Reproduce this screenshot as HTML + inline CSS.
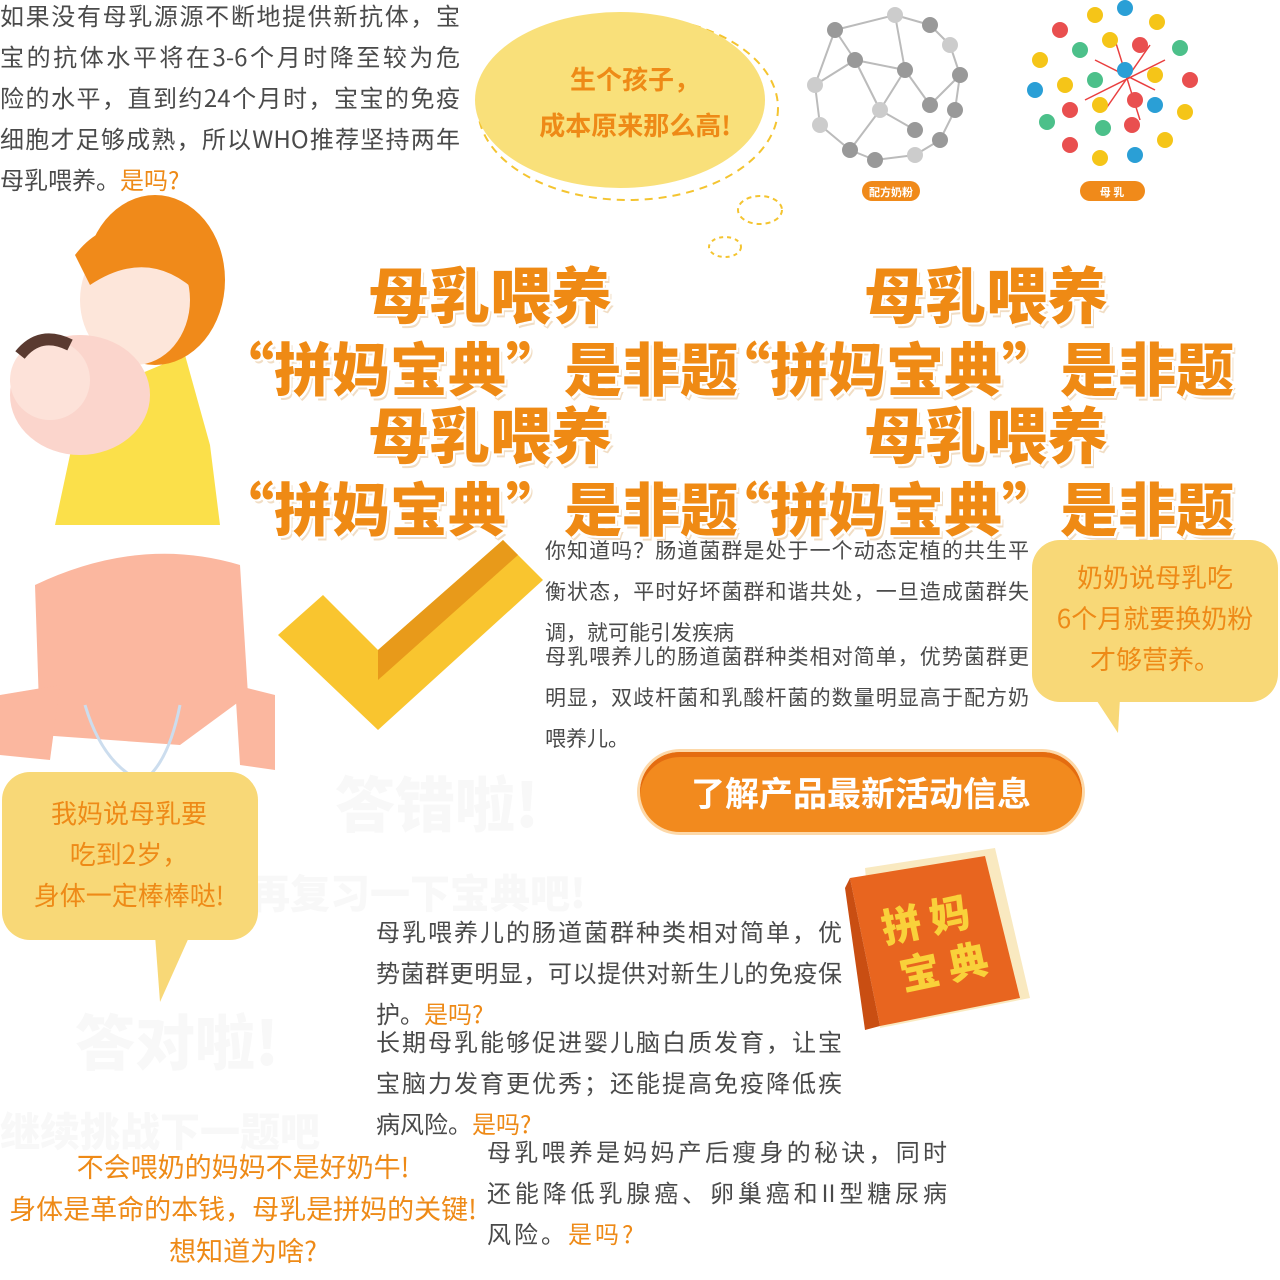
<!DOCTYPE html>
<html><head><meta charset="utf-8">
<style>
html,body{margin:0;padding:0;background:#fff;}
body{width:1280px;height:1280px;position:relative;overflow:hidden;font-family:"Noto Sans CJK SC","Liberation Sans",sans-serif;}
.a{position:absolute;white-space:nowrap;}
.p{color:#4a4a4a;}
.o{color:#ee8a17;}
.j{text-align:justify;text-align-last:justify;height:41px;}
.big{font-family:"Noto Sans CJK SC",sans-serif;font-weight:900;color:#ef8a14;text-shadow:2px 2px 0 #fff,-2px -2px 0 #fff,2px -2px 0 #fff,-2px 2px 0 #fff,3px 4px 0 rgba(200,120,20,0.25);}
</style></head>
<body>

<div class="a p" style="left:0;top:-6px;width:460px;font-size:24px;line-height:41px;white-space:normal;">
<div class="j">如果没有母乳源源不断地提供新抗体，宝</div><div class="j">宝的抗体水平将在3-6个月时降至较为危</div><div class="j">险的水平，直到约24个月时，宝宝的免疫</div><div class="j">细胞才足够成熟，所以WHO推荐坚持两年</div><div>母乳喂养。<span class="o">是吗?</span></div>
</div>

<svg class="a" style="left:460px;top:0" width="360" height="270">
<ellipse cx="168" cy="108" rx="150" ry="92" fill="none" stroke="#f4c430" stroke-width="2" stroke-dasharray="8 6"/>
<ellipse cx="160" cy="100" rx="145" ry="88" fill="#f9e07a"/>
<ellipse cx="300" cy="210" rx="22" ry="14" fill="none" stroke="#f4c430" stroke-width="2" stroke-dasharray="5 4"/>
<ellipse cx="265" cy="247" rx="16" ry="10" fill="none" stroke="#f4c430" stroke-width="2" stroke-dasharray="4 4"/>
</svg>
<div class="a o" style="left:515px;top:56px;width:240px;text-align:center;font-size:26px;line-height:46px;font-weight:700;">生个孩子，<br>成本原来那么高!</div>

<svg class="a" style="left:795px;top:0" width="420" height="210">
<g stroke="#bbb" stroke-width="2">
<line x1="40" y1="30" x2="100" y2="15"/><line x1="100" y1="15" x2="135" y2="25"/><line x1="40" y1="30" x2="20" y2="85"/><line x1="20" y1="85" x2="25" y2="125"/><line x1="25" y1="125" x2="55" y2="150"/><line x1="55" y1="150" x2="80" y2="160"/><line x1="80" y1="160" x2="120" y2="155"/><line x1="120" y1="155" x2="145" y2="140"/><line x1="145" y1="140" x2="160" y2="110"/><line x1="160" y1="110" x2="165" y2="75"/><line x1="165" y1="75" x2="155" y2="45"/><line x1="155" y1="45" x2="135" y2="25"/><line x1="60" y1="60" x2="110" y2="70"/><line x1="60" y1="60" x2="85" y2="110"/><line x1="85" y1="110" x2="110" y2="70"/><line x1="110" y1="70" x2="135" y2="105"/><line x1="85" y1="110" x2="120" y2="130"/><line x1="40" y1="30" x2="60" y2="60"/><line x1="100" y1="15" x2="110" y2="70"/><line x1="20" y1="85" x2="60" y2="60"/><line x1="55" y1="150" x2="85" y2="110"/><line x1="135" y1="105" x2="165" y2="75"/>
</g>
<g fill="#999">
<circle cx="40" cy="30" r="8"/><circle cx="100" cy="15" r="8" fill="#ccc"/><circle cx="135" cy="25" r="8"/><circle cx="20" cy="85" r="8" fill="#ccc"/><circle cx="25" cy="125" r="8" fill="#ccc"/><circle cx="55" cy="150" r="8"/><circle cx="80" cy="160" r="8"/><circle cx="120" cy="155" r="8" fill="#ccc"/><circle cx="145" cy="140" r="8"/><circle cx="160" cy="110" r="8"/><circle cx="165" cy="75" r="8"/><circle cx="155" cy="45" r="8" fill="#ccc"/><circle cx="60" cy="60" r="8"/><circle cx="110" cy="70" r="8"/><circle cx="85" cy="110" r="8" fill="#ccc"/><circle cx="135" cy="105" r="8"/><circle cx="120" cy="130" r="8"/>
</g>
<g stroke="#e94040" stroke-width="1.5"><line x1="300" y1="60" x2="360" y2="90"/><line x1="320" y1="40" x2="345" y2="120"/><line x1="290" y1="100" x2="370" y2="60"/><line x1="310" y1="110" x2="355" y2="45"/></g>
<g>
<circle cx="265" cy="30" r="8" fill="#e94f4f"/><circle cx="300" cy="15" r="8" fill="#f5c518"/><circle cx="330" cy="8" r="8" fill="#2a9fd6"/><circle cx="362" cy="22" r="8" fill="#f5c518"/><circle cx="245" cy="60" r="8" fill="#f5c518"/><circle cx="285" cy="50" r="8" fill="#4cc08a"/><circle cx="315" cy="40" r="8" fill="#f5c518"/><circle cx="345" cy="45" r="8" fill="#e94f4f"/><circle cx="385" cy="48" r="8" fill="#4cc08a"/><circle cx="240" cy="90" r="8" fill="#2a9fd6"/><circle cx="270" cy="85" r="8" fill="#f5c518"/><circle cx="300" cy="80" r="8" fill="#4cc08a"/><circle cx="330" cy="70" r="8" fill="#2a9fd6"/><circle cx="360" cy="75" r="8" fill="#f5c518"/><circle cx="395" cy="80" r="8" fill="#e94f4f"/><circle cx="275" cy="110" r="8" fill="#e94f4f"/><circle cx="305" cy="105" r="8" fill="#f5c518"/><circle cx="340" cy="100" r="8" fill="#e94f4f"/><circle cx="360" cy="105" r="8" fill="#2a9fd6"/><circle cx="390" cy="112" r="8" fill="#f5c518"/><circle cx="252" cy="122" r="8" fill="#4cc08a"/><circle cx="308" cy="128" r="8" fill="#4cc08a"/><circle cx="337" cy="125" r="8" fill="#e94f4f"/><circle cx="275" cy="145" r="8" fill="#e94f4f"/><circle cx="305" cy="158" r="8" fill="#f5c518"/><circle cx="340" cy="155" r="8" fill="#2a9fd6"/><circle cx="370" cy="140" r="8" fill="#f5c518"/>
</g>
<rect x="67" y="181" width="58" height="20" rx="10" fill="#f08a1a"/>
<text x="96" y="196" font-size="11" font-weight="700" fill="#fff" text-anchor="middle" font-family="Noto Sans CJK SC">配方奶粉</text>
<rect x="285" y="181" width="65" height="20" rx="10" fill="#f08a1a"/>
<text x="317" y="196" font-size="11" font-weight="700" fill="#fff" text-anchor="middle" font-family="Noto Sans CJK SC">母  乳</text>
</svg>

<svg class="a" style="left:0;top:195px" width="240" height="350">
<path d="M90 200 L70 260 L55 330 L220 330 L210 250 L185 160 Z" fill="#fbe04a"/>
<ellipse cx="155" cy="85" rx="70" ry="85" fill="#f08a1a"/>
<ellipse cx="135" cy="105" rx="55" ry="65" fill="#fde6da"/>
<path d="M75 60 Q120 0 210 60 L200 100 Q150 50 90 90 Z" fill="#f08a1a"/>
<ellipse cx="80" cy="200" rx="70" ry="60" fill="#fbd5cc"/>
<ellipse cx="50" cy="185" rx="40" ry="40" fill="#fde2d9"/>
<path d="M20 160 Q40 135 70 150" stroke="#5a3a30" stroke-width="12" fill="none"/>
</svg>

<div class="a big" style="left:368px;top:256px;font-size:61px;line-height:72px;">母乳喂养</div>
<div class="a big" style="left:864px;top:256px;font-size:61px;line-height:72px;">母乳喂养</div>
<div class="a big" style="left:216px;top:330px;font-size:58px;line-height:72px;">“拼妈宝典”是非题</div>
<div class="a big" style="left:712px;top:330px;font-size:58px;line-height:72px;">“拼妈宝典”是非题</div>
<div class="a big" style="left:368px;top:396px;font-size:61px;line-height:72px;">母乳喂养</div>
<div class="a big" style="left:864px;top:396px;font-size:61px;line-height:72px;">母乳喂养</div>
<div class="a big" style="left:216px;top:470px;font-size:58px;line-height:72px;">“拼妈宝典”是非题</div>
<div class="a big" style="left:712px;top:470px;font-size:58px;line-height:72px;">“拼妈宝典”是非题</div>

<svg class="a" style="left:0;top:545px" width="280" height="230">
<path d="M35 40 Q140 -10 240 20 L248 150 L180 200 L40 190 Z" fill="#fbb79f"/>
<path d="M0 150 L60 140 L50 215 L0 210 Z" fill="#fbb79f"/>
<path d="M235 140 L275 150 L275 225 L240 220 Z" fill="#fbb79f"/>
<path d="M85 160 Q100 210 130 230 M180 160 Q170 210 150 230" stroke="#cde" stroke-width="3" fill="none"/>
</svg>

<svg class="a" style="left:278px;top:540px" width="270" height="195">
<path d="M0 95 L45 55 L100 110 L225 0 L265 40 L100 190 Z" fill="#f9c52f"/>
<path d="M100 110 L225 0 L240 15 L100 140 Z" fill="#e89a1a"/>
</svg>

<div class="a p" style="left:545px;top:530px;width:484px;font-size:21px;line-height:41px;white-space:normal;">
<div class="j">你知道吗？肠道菌群是处于一个动态定植的共生平</div><div class="j">衡状态，平时好坏菌群和谐共处，一旦造成菌群失</div><div>调，就可能引发疾病</div></div>
<div class="a p" style="left:545px;top:636px;width:484px;font-size:21px;line-height:41px;white-space:normal;">
<div class="j">母乳喂养儿的肠道菌群种类相对简单，优势菌群更</div><div class="j">明显，双歧杆菌和乳酸杆菌的数量明显高于配方奶</div><div>喂养儿。</div></div>

<svg class="a" style="left:1030px;top:538px" width="250" height="200">
<rect x="2" y="2" width="246" height="162" rx="28" fill="#f8d877"/>
<path d="M65 160 L88 195 L90 160 Z" fill="#f8d877"/>
</svg>
<div class="a o" style="left:1032px;top:556px;width:246px;text-align:center;font-size:26px;line-height:41px;">奶奶说母乳吃<br>6个月就要换奶粉<br>才够营养。</div>

<div class="a" style="left:640px;top:752px;width:442px;height:80px;border-radius:40px;background:#f28a1e;box-shadow:0 5px 0 #e46c10 inset,0 0 0 3px #fdd8a8;color:#fff;font-size:34px;font-weight:700;line-height:80px;text-align:center;">了解产品最新活动信息</div>

<div class="a" style="left:335px;top:758px;font-size:60px;font-weight:900;color:#f8f8f8;">答错啦!</div>
<div class="a" style="left:250px;top:862px;font-size:40px;font-weight:900;color:#f8f8f8;">再复习一下宝典吧!</div>
<div class="a" style="left:75px;top:996px;font-size:60px;font-weight:900;color:#f8f8f8;">答对啦!</div>
<div class="a" style="left:0;top:1100px;font-size:40px;font-weight:900;color:#f8f8f8;">继续挑战下一题吧</div>

<svg class="a" style="left:0;top:770px" width="262" height="235">
<rect x="2" y="2" width="256" height="168" rx="28" fill="#f8d877"/>
<path d="M155 165 L160 232 L190 165 Z" fill="#f8d877"/>
</svg>
<div class="a o" style="left:0;top:792px;width:258px;text-align:center;font-size:26px;line-height:41px;">我妈说母乳要<br>吃到2岁，<br>身体一定棒棒哒!</div>

<svg class="a" style="left:845px;top:848px" width="190" height="190">
<path d="M20 20 L150 0 L185 150 L35 180 Z" fill="#f9e9c0"/>
<path d="M5 30 L140 8 L175 150 L35 178 Z" fill="#e8651f"/>
<path d="M5 30 L35 178 L20 182 L0 40 Z" fill="#c94e12"/>
<text x="40" y="85" font-size="40" font-weight="900" fill="#f9d13a" font-family="Noto Sans CJK SC" transform="rotate(-12 90 90)">拼 妈</text>
<text x="48" y="135" font-size="40" font-weight="900" fill="#f9d13a" font-family="Noto Sans CJK SC" transform="rotate(-12 90 90)">宝 典</text>
</svg>

<div class="a p" style="left:376px;top:910px;width:466px;font-size:24px;line-height:41px;white-space:normal;">
<div class="j">母乳喂养儿的肠道菌群种类相对简单，优</div><div class="j">势菌群更明显，可以提供对新生儿的免疫保</div><div>护。<span class="o">是吗?</span></div></div>
<div class="a p" style="left:376px;top:1020px;width:466px;font-size:24px;line-height:41px;white-space:normal;">
<div class="j">长期母乳能够促进婴儿脑白质发育，让宝</div><div class="j">宝脑力发育更优秀；还能提高免疫降低疾</div><div>病风险。<span class="o">是吗?</span></div></div>
<div class="a p" style="left:487px;top:1130px;width:460px;font-size:24px;line-height:41px;white-space:normal;">
<div class="j">母乳喂养是妈妈产后瘦身的秘诀，同时</div><div class="j">还能降低乳腺癌、卵巢癌和II型糖尿病</div><div style="letter-spacing:3px;">风险。<span class="o">是吗?</span></div></div>

<div class="a o" style="left:0;top:1145px;width:486px;text-align:center;font-size:27px;line-height:42px;">不会喂奶的妈妈不是好奶牛!<br>身体是革命的本钱，母乳是拼妈的关键!<br>想知道为啥?</div>

</body></html>
